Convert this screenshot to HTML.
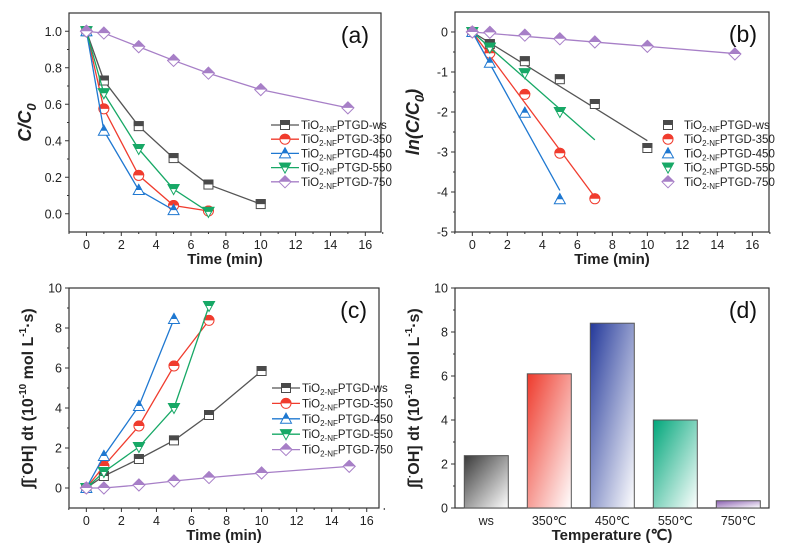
<!DOCTYPE html>
<html><head><meta charset="utf-8"><style>
body{margin:0;background:#fff}
svg{display:block;font-family:"Liberation Sans",sans-serif}
</style></head><body>
<svg id="fig" width="802" height="557" viewBox="0 0 802 557" xmlns="http://www.w3.org/2000/svg">
<defs>
<clipPath id="tophalf" clipPathUnits="userSpaceOnUse"><rect x="-10" y="-10" width="20" height="10"/></clipPath>
<linearGradient id="g0" x1="0" y1="0" x2="1" y2="1"><stop offset="0" stop-color="#3a3a3a"/><stop offset="1" stop-color="#fff"/></linearGradient>
<linearGradient id="g1" x1="0" y1="0" x2="1" y2="1"><stop offset="0" stop-color="#ee3a2c"/><stop offset="1" stop-color="#fff"/></linearGradient>
<linearGradient id="g2" x1="0" y1="0" x2="1" y2="1"><stop offset="0" stop-color="#24399a"/><stop offset="1" stop-color="#fff"/></linearGradient>
<linearGradient id="g3" x1="0" y1="0" x2="1" y2="1"><stop offset="0" stop-color="#00a67a"/><stop offset="1" stop-color="#fff"/></linearGradient>
<linearGradient id="g4" x1="0" y1="0" x2="1" y2="1"><stop offset="0" stop-color="#8a5fb0"/><stop offset="1" stop-color="#fff"/></linearGradient>
</defs>
</svg>
<script>
// ---- data ----
const seriesNames = ["ws","350","450","550","750"];
const tWs = [0,1,3,5,7,10];
const t350 = [0,1,3,5,7];
const t450 = [0,1,3,5];
const t550 = [0,1,3,5,7];
const t750 = [0,1,3,5,7,10,15];
const aWs = [1,0.73,0.48,0.305,0.16,0.053];
const a350 = [1,0.575,0.21,0.045,0.015];
const a450 = [1,0.455,0.13,0.02];
const a550 = [1,0.66,0.355,0.135,0.01];
const a750 = [1,0.99,0.915,0.84,0.77,0.68,0.58];
const bWs = [0,-0.3,-0.73,-1.18,-1.8,-2.9];
const b350 = [0,-0.53,-1.56,-3.03,-4.17];
const b450 = [0,-0.77,-2.02,-4.18];
const b550 = [0,-0.39,-1.03,-2.0];
const b750 = [0,-0.01,-0.08,-0.17,-0.25,-0.36,-0.55];
const fitEnd = [10,7,5,7,15];
const cWs = [0,0.6,1.45,2.38,3.65,5.85];
const c350 = [0,1.1,3.1,6.1,8.38];
const c450 = [0,1.6,4.1,8.45];
const c550 = [0,0.8,2.05,4.0,9.1];
const c750 = [0,0,0.15,0.35,0.52,0.75,1.08];
const barCategories = ["ws","350\u2103","450\u2103","550\u2103","750\u2103"];
const barValues = [2.38,6.1,8.4,4.0,0.33];
const xTicks = [0,2,4,6,8,10,12,14,16];
const aTicks = ["0.0","0.2","0.4","0.6","0.8","1.0"];
const bTicks = [-5,-4,-3,-2,-1,0];
const cTicks = [0,2,4,6,8,10];

const times=[tWs,t350,t450,t550,t750];
const colors=["#4a4a4a","#f03c2e","#1f78d1","#17a866","#a77fc7"];
const lineCol=["#555","#f03c2e","#1f78d1","#17a866","#a77fc7"];
const shapes=["sq","ci","tu","td","di"];
const svg=document.getElementById('fig');
const NS="http://www.w3.org/2000/svg";
function el(tag,attrs,parent){const e=document.createElementNS(NS,tag);for(const k in attrs)e.setAttribute(k,attrs[k]);(parent||svg).appendChild(e);return e;}
function shapeEl(s,g,fill,stroke){
  let e;
  if(s=="sq") e=el('rect',{x:-4.5,y:-4.5,width:9,height:9},g);
  else if(s=="ci") e=el('circle',{r:5},g);
  else if(s=="tu") e=el('polygon',{points:"0,-5.5 5.5,4.5 -5.5,4.5"},g);
  else if(s=="td") e=el('polygon',{points:"0,5.5 5.5,-4.5 -5.5,-4.5"},g);
  else e=el('polygon',{points:"0,-6 6,0 0,6 -6,0"},g);
  e.setAttribute('fill',fill);e.setAttribute('stroke',stroke);e.setAttribute('stroke-width',1);
  return e;
}
function marker(parent,x,y,i,name){
  const g=el('g',{transform:`translate(${x},${y})`},parent);
  
  
  shapeEl(shapes[i],g,'#fff',colors[i]);
  const f=shapeEl(shapes[i],g,colors[i],colors[i]);
  f.setAttribute('clip-path','url(#tophalf)');
}
function panel(o){
  const g=el('g',{});
  
  
  const X=v=>o.L+(v-o.x0)/(o.x1-o.x0)*(o.R-o.L);
  const Y=v=>o.B-(v-o.y0)/(o.y1-o.y0)*(o.B-o.T);
  o.X=X;o.Y=Y;o.g=g;
  const fr=el('rect',{x:o.L,y:o.T,width:o.R-o.L,height:o.B-o.T,fill:'none',stroke:'#333','stroke-width':1.2},g);
  
  
  o.yt.forEach((lab,k)=>{
    const v=+lab;const y=Y(v);
    el('line',{x1:o.L-4,x2:o.L,y1:y,y2:y,stroke:'#333'},g);
    const t=el('text',{x:o.L-7,y:y+4.5,'text-anchor':'end','font-size':12.5,fill:'#222'},g);
    t.textContent=lab;
    
    
    if(k<o.yt.length-1){const m=Y(v+(+o.yt[1]-+o.yt[0])/2);el('line',{x1:o.L-2,x2:o.L,y1:m,y2:m,stroke:'#333'},g);}
  });
  if(o.xt){
    o.xt.forEach(v=>{
      const x=X(v);
      el('line',{x1:x,x2:x,y1:o.B,y2:o.B+4,stroke:'#333'},g);
      el('line',{x1:X(v-1),x2:X(v-1),y1:o.B,y2:o.B+2,stroke:'#333'},g);
      const t=el('text',{x:x,y:o.B+17,'text-anchor':'middle','font-size':12.5,fill:'#222'},g);
      t.textContent=v;
      
      
    });
    el('line',{x1:X(17),x2:X(17),y1:o.B,y2:o.B+2,stroke:'#333'},g);
  }
  const xt=el('text',{x:(o.L+o.R)/2,y:o.B+32,'text-anchor':'middle','font-size':15,'font-weight':'bold',fill:'#222'},g);
  xt.textContent=o.xtitle;
  
  
  const yt=el('text',{transform:`translate(${o.L-(o.ytoff||38)},${(o.T+o.B)/2}) rotate(-90)`,'text-anchor':'middle','font-size':o.ytsize||18,'font-weight':'bold',fill:'#222'},g);
  yt.innerHTML=o.ytitle;
  
  
  const pl=el('text',{x:o.R-12,y:o.T+30,'text-anchor':'end','font-size':23,fill:'#111'},g);
  pl.textContent=o.label;
  
  
  return o;
}
function legend(o,x,y0,dy,withLine){
  const g=el('g',{},o.g);
  
  
  seriesNames.forEach((n,i)=>{
    const y=y0+i*dy;
    const e=el('g',{},g);
    
    
    if(withLine) el('line',{x1:x,x2:x+28,y1:y,y2:y,stroke:lineCol[i],'stroke-width':1.3},e);
    marker(e,x+14,y,i,'legend-marker');
    const t=el('text',{x:x+30,y:y+4,'font-size':11.5,fill:'#222'},e);
    t.innerHTML='TiO<tspan font-size="8" dy="3">2-NF</tspan><tspan dy="-3">PTGD-'+n+'</tspan>';
  });
}
function lineSeries(o,ys,conn){
  ys.forEach((arr,i)=>{
    const g=el('g',{},o.g);
    
    
    const ts=times[i];
    if(conn){
      el('polyline',{points:arr.map((v,k)=>o.X(ts[k])+','+o.Y(v)).join(' '),fill:'none',stroke:lineCol[i],'stroke-width':1.3},g);
    }else{
      let num=0,den=0;arr.forEach((v,k)=>{num+=ts[k]*v;den+=ts[k]*ts[k];});
      const s=num/den;
      const fl=el('line',{x1:o.X(0),y1:o.Y(0),x2:o.X(fitEnd[i]),y2:o.Y(s*fitEnd[i]),stroke:lineCol[i],'stroke-width':1.3},g);
      
      
    }
    arr.forEach((v,k)=>marker(g,o.X(ts[k]),o.Y(v),i,'point'));
  });
}
const pa=panel({name:'panel-a',L:69,R:381,T:13,B:232,x0:-1,x1:16.9,y0:-0.1,y1:1.1,yt:aTicks,xt:xTicks,xtitle:'Time (min)',ytitle:'<tspan font-style="italic">C/C</tspan><tspan font-style="italic" font-size="13" dy="5">0</tspan>',label:'(a)'});
lineSeries(pa,[aWs,a350,a450,a550,a750],true);
legend(pa,271,125,14.2,true);
const pb=panel({name:'panel-b',L:455,R:769,T:12,B:232,x0:-0.99,x1:16.95,y0:-5,y1:0.5,yt:bTicks.map(String),xt:xTicks,xtitle:'Time (min)',ytitle:'<tspan font-style="italic">ln(C/C</tspan><tspan font-style="italic" font-size="13" dy="5">0</tspan><tspan font-style="italic" dy="-5">)</tspan>',ytoff:36,label:'(b)'});
lineSeries(pb,[bWs,b350,b450,b550,b750],false);
legend(pb,654,125,14.2,false);
const cTitle='∫[<tspan font-size="10" dy="-6">·</tspan><tspan dy="6">OH] dt (10</tspan><tspan font-size="10" dy="-7">-10</tspan><tspan dy="7"> mol L</tspan><tspan font-size="10" dy="-7">-1</tspan><tspan dy="7">·s)</tspan>';
const pc=panel({name:'panel-c',L:69,R:379,T:288,B:508,x0:-0.99,x1:16.7,y0:-1,y1:10,yt:cTicks.map(String),xt:xTicks,xtitle:'Time (min)',ytitle:cTitle,ytsize:16,ytoff:36,label:'(c)'});
lineSeries(pc,[cWs,c350,c450,c550,c750],true);
legend(pc,272,388,15.4,true);
const pd=panel({name:'panel-d',L:455,R:769,T:288,B:508,x0:0,x1:5,y0:0,y1:10,yt:cTicks.map(String),xt:null,xtitle:'Temperature (\u2103)',ytitle:cTitle,ytsize:16,ytoff:36,label:'(d)'});
const step=63, bw=44, c0=486.3;
barValues.forEach((v,i)=>{
  const cx=c0+i*step;
  const b=el('rect',{x:cx-bw/2,y:pd.Y(v),width:bw,height:pd.B-pd.Y(v),fill:`url(#g${i})`,stroke:'#555','stroke-width':1},pd.g);
  
  
  const t=el('text',{x:cx,y:pd.B+17,'text-anchor':'middle','font-size':12.5,fill:'#222'},pd.g);
  t.textContent=barCategories[i];
  
  
});
</script>
</body></html>
